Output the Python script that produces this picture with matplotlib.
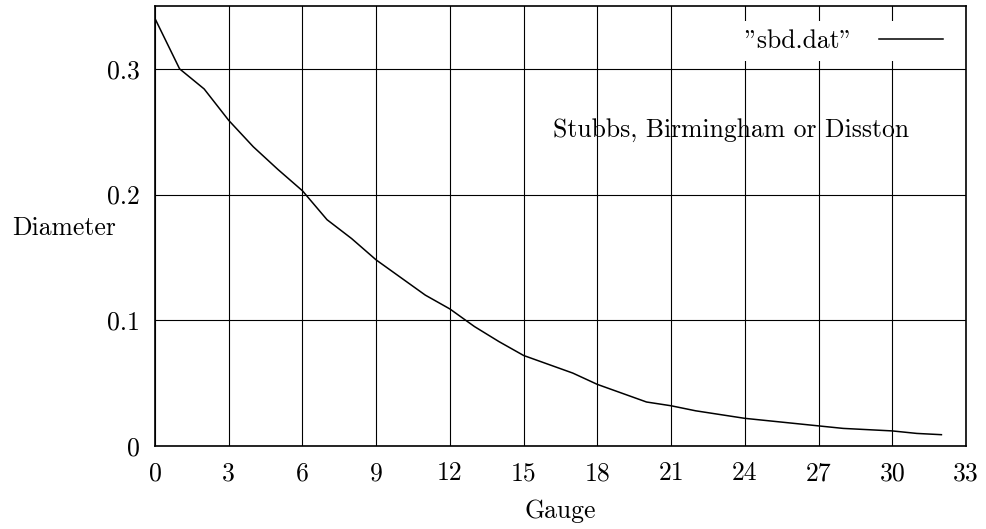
import matplotlib
matplotlib.use("Agg")
import matplotlib.pyplot as plt

gauge = list(range(33))
diameter = [0.340, 0.300, 0.284, 0.259, 0.238, 0.220, 0.203, 0.180, 0.165, 0.148,
            0.134, 0.120, 0.109, 0.095, 0.083, 0.072, 0.065, 0.058, 0.049, 0.042,
            0.035, 0.032, 0.028, 0.025, 0.022, 0.020, 0.018, 0.016, 0.014, 0.013,
            0.012, 0.010, 0.009]
xticks = list(range(0, 34, 3))
yticks = [0, 0.1, 0.2, 0.3]
ytick_labels = ["0", "0.1", "0.2", "0.3"]

plt.rcParams['font.family'] = ['cmr10', 'DejaVu Serif']
plt.rcParams['axes.formatter.use_mathtext'] = True
fs = 18.5

fig = plt.figure(figsize=(9.86, 5.29), dpi=100)
ax = fig.add_axes([0.1572, 0.1569, 0.8225, 0.8318])

# cmr10 draws '"' as the TeX closing double quote
ax.plot(gauge, diameter, color='black', linewidth=1.1, label='"sbd.dat"')
ax.set_xlim(0, 33)
ax.set_ylim(0, 0.35)
ax.set_xticks(xticks)
ax.set_xticklabels([str(t) for t in xticks])
ax.set_yticks(yticks)
ax.set_yticklabels(ytick_labels)
ax.grid(True, color='black', linewidth=0.8)
ax.set_axisbelow(True)
ax.tick_params(direction='in', length=0, labelsize=fs)
ax.tick_params(axis='x', pad=11)
ax.tick_params(axis='y', pad=11)
for s in ax.spines.values():
    s.set_linewidth(1.2)

ax.text(23.45, 0.251, 'Stubbs, Birmingham or Disston', fontsize=fs,
        ha='center', va='center')
ax.set_xlabel('Gauge', fontsize=fs, labelpad=10)
ax.set_ylabel('Diameter', fontsize=fs, rotation=0, ha='center', va='center')
ax.yaxis.set_label_coords(-0.112, 0.495)

leg = ax.legend(loc='upper right', markerfirst=False, fontsize=fs, frameon=True,
                fancybox=False, borderpad=0.3, borderaxespad=0.6,
                handlelength=2.5, handletextpad=1.0)
leg.get_frame().set_edgecolor('none')
leg.get_frame().set_facecolor('white')
leg.get_frame().set_alpha(1)

fig.savefig('out.png', dpi=100)
